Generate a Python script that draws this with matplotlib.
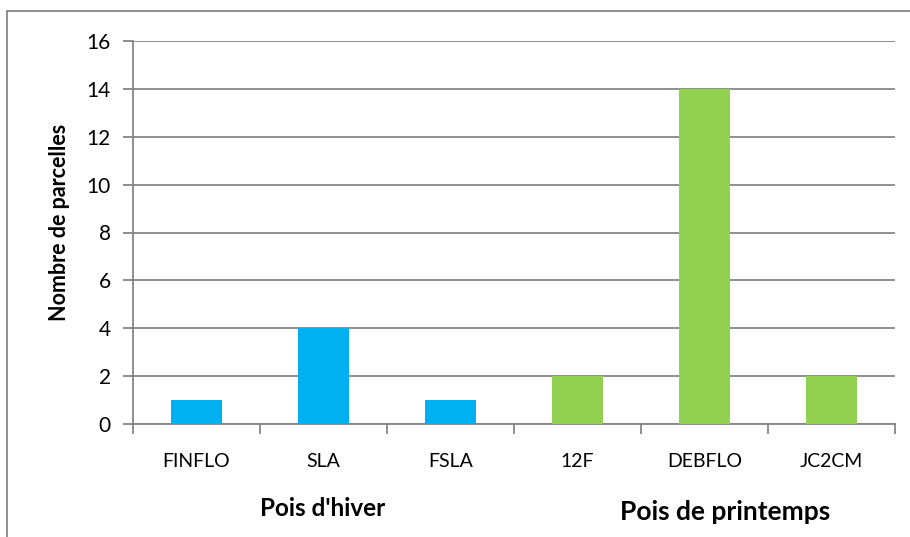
import matplotlib.pyplot as plt
from matplotlib.patches import Rectangle

categories = ['FINFLO', 'SLA', 'FSLA', '12F', 'DEBFLO', 'JC2CM']
counts = [1, 4, 1, 2, 14, 2]
groups = ["Pois d'hiver", 'Pois de printemps']
colors = ['#00B0F0'] * 3 + ['#92D050'] * 3

plt.rcParams['font.family'] = ['Lato', 'DejaVu Sans']

W, H = 910, 537
fig = plt.figure(figsize=(W / 100, H / 100), dpi=100)
ax = fig.add_axes([133 / W, 1 - 424 / H, (895 - 133) / W, (424 - 41) / H])

x = range(len(categories))
ax.bar(x, counts, width=0.4, color=colors, zorder=3)

ax.set_xlim(-0.5, len(categories) - 0.5)
ax.set_ylim(0, 16)
ax.set_yticks(range(0, 17, 2))
ax.grid(axis='y', color='#868686', linewidth=1.3, zorder=0)
ax.set_xticks(list(x))
ax.set_xticklabels(categories, fontsize=14)
ax.set_xticks([i - 0.5 for i in range(len(categories) + 1)], minor=True)
ax.tick_params(axis='x', which='major', length=0, pad=21)
ax.tick_params(axis='x', which='minor', length=7, color='#868686', width=1.3)
ax.tick_params(axis='y', length=7, color='#868686', width=1.3, labelsize=15, pad=9)

for s in ['top', 'right']:
    ax.spines[s].set_visible(False)
for s in ['left', 'bottom']:
    ax.spines[s].set_color('#868686')
    ax.spines[s].set_linewidth(1.3)

ax.set_ylabel('Nombre de parcelles', fontsize=15.5, fontweight='bold')
ax.yaxis.set_label_coords(-0.083, 0.527)

fig.text(323 / W, 1 - 508 / H, groups[0], ha='center', va='center',
         fontsize=17.5, fontweight='bold')
fig.text(725 / W, 1 - 512 / H, groups[1], ha='center', va='center',
         fontsize=19, fontweight='bold')

# outer chart frame, clipped at right and bottom
fig.patches.append(Rectangle((7 / W, -0.1), 1.2, 1 - 11 / H + 0.1,
                             transform=fig.transFigure, fill=False,
                             edgecolor='#868686', linewidth=1.3))

fig.savefig('out.png', dpi=100)
